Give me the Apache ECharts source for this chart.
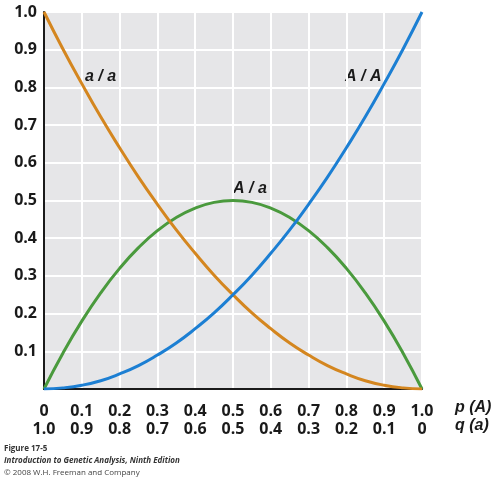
<!DOCTYPE html>
<html>
<head>
<meta charset="utf-8">
<script src="https://cdn.jsdelivr.net/npm/echarts@6/dist/echarts.min.js"></script>
<style>
  html, body { margin: 0; padding: 0; background: #fff; }
  #chart { width: 502px; height: 480px; }
</style>
</head>
<body>
<div id="chart"></div>
<script>
// allele frequency p(A)
var pValues = [0, 0.05, 0.1, 0.15, 0.2, 0.25, 0.3, 0.35, 0.4, 0.45, 0.5,
               0.55, 0.6, 0.65, 0.7, 0.75, 0.8, 0.85, 0.9, 0.95, 1.0];
// genotype frequencies
var freqAA = [0, 0.003, 0.01, 0.022, 0.04, 0.062, 0.09, 0.122, 0.16, 0.202, 0.25,
              0.302, 0.36, 0.422, 0.49, 0.562, 0.64, 0.722, 0.81, 0.902, 1.0];
var freqAa = [0, 0.095, 0.18, 0.255, 0.32, 0.375, 0.42, 0.455, 0.48, 0.495, 0.5,
              0.495, 0.48, 0.455, 0.42, 0.375, 0.32, 0.255, 0.18, 0.095, 0];
var freqaa = [1.0, 0.902, 0.81, 0.722, 0.64, 0.562, 0.49, 0.422, 0.36, 0.302, 0.25,
              0.202, 0.16, 0.122, 0.09, 0.062, 0.04, 0.022, 0.01, 0.003, 0];
// tick labels
var pTicks = ['0', '0.1', '0.2', '0.3', '0.4', '0.5', '0.6', '0.7', '0.8', '0.9', '1.0'];
var qTicks = ['1.0', '0.9', '0.8', '0.7', '0.6', '0.5', '0.4', '0.3', '0.2', '0.1', '0'];
var yTicks = ['', '0.1', '0.2', '0.3', '0.4', '0.5', '0.6', '0.7', '0.8', '0.9', '1.0'];

function pairs(ys) {
    return pValues.map(function (p, i) { return [p, ys[i]]; });
}

var labelFont = '"Open Sans", "DejaVu Sans", sans-serif';
var curveFont = 'italic bold 16px "Liberation Sans", Arial, sans-serif';

var myChart = echarts.init(document.getElementById('chart'));
var option = {
    animation: false,
    backgroundColor: '#ffffff',
    grid: {
        left: 44, right: 80, top: 12, bottom: 91,
        show: true, backgroundColor: '#e6e6e8', borderWidth: 0
    },
    xAxis: {
        type: 'value',
        min: 0, max: 1, interval: 0.1,
        axisLine: { show: true, lineStyle: { color: '#1a1a1a', width: 2 } },
        axisTick: { show: false },
        splitLine: { show: true, lineStyle: { color: '#ffffff', width: 2 } },
        axisLabel: {
            margin: 13,
            fontFamily: labelFont,
            fontWeight: 'bold',
            fontSize: 16,
            lineHeight: 18,
            color: '#1a1a1a',
            formatter: function (v) {
                var i = Math.round(v * 10);
                return pTicks[i] + '\n' + qTicks[i];
            }
        }
    },
    yAxis: {
        type: 'value',
        min: 0, max: 1, interval: 0.1,
        axisLine: { show: true, lineStyle: { color: '#1a1a1a', width: 2 } },
        axisTick: { show: false },
        splitLine: { show: true, lineStyle: { color: '#ffffff', width: 2 } },
        axisLabel: {
            margin: 7,
            fontFamily: labelFont,
            fontWeight: 'bold',
            fontSize: 16,
            color: '#1a1a1a',
            formatter: function (v) { return yTicks[Math.round(v * 10)]; }
        }
    },
    series: [
        {
            name: 'a/a', type: 'line', smooth: true, showSymbol: false,
            lineStyle: { color: '#d4861f', width: 3 },
            data: pairs(freqaa), z: 3
        },
        {
            name: 'A/a', type: 'line', smooth: true, showSymbol: false,
            lineStyle: { color: '#4a9a3d', width: 3 },
            data: pairs(freqAa), z: 2
        },
        {
            name: 'A/A', type: 'line', smooth: true, showSymbol: false,
            lineStyle: { color: '#1c7fd3', width: 3 },
            data: pairs(freqAA), z: 4
        }
    ],
    graphic: [
        { type: 'text', left: 85, top: 69,
          style: { text: 'a / a', font: curveFont, fill: '#1a1a1a' } },
        { type: 'text', left: 345, top: 69,
          style: { text: 'A / A', font: curveFont, fill: '#1a1a1a' } },
        { type: 'text', left: 233, top: 181,
          style: { text: 'A / a', font: curveFont, fill: '#1a1a1a' } },
        { type: 'text', left: 455, top: 400,
          style: { text: 'p (A)', font: curveFont, fill: '#1a1a1a' } },
        { type: 'text', left: 455, top: 418,
          style: { text: 'q (a)', font: curveFont, fill: '#1a1a1a' } },
        { type: 'text', left: 4, top: 445,
          style: { text: 'Figure 17-5', font: 'bold 8px ' + labelFont, fill: '#333' } },
        { type: 'text', left: 4, top: 457,
          style: { text: 'Introduction to Genetic Analysis, Ninth Edition', font: 'italic bold 8px ' + labelFont, fill: '#333' } },
        { type: 'text', left: 4, top: 469,
          style: { text: '\u00a9 2008 W.H. Freeman and Company', font: '8px ' + labelFont, fill: '#444' } }
    ]
};
myChart.setOption(option);
</script>
</body>
</html>
